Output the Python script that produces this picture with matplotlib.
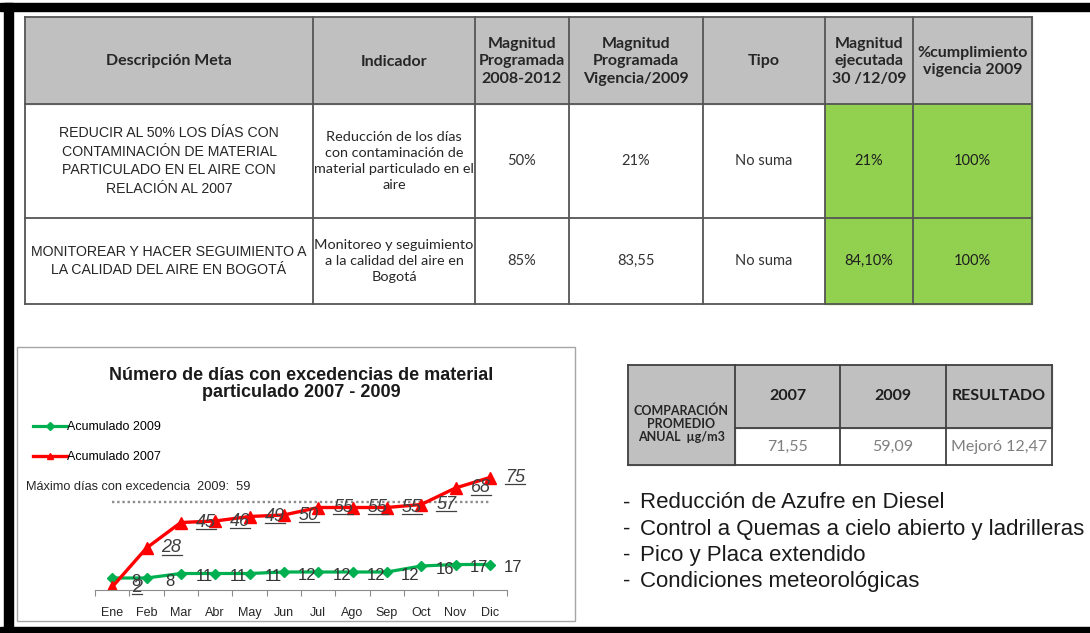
import matplotlib
matplotlib.use("Agg")
import matplotlib.pyplot as plt
from matplotlib.patches import Rectangle
from matplotlib.lines import Line2D

# ---- datos ----
meses = ["Ene", "Feb", "Mar", "Abr", "May", "Jun", "Jul", "Ago", "Sep", "Oct", "Nov", "Dic"]
acum_2009 = [8, 8, 11, 11, 11, 12, 12, 12, 12, 16, 17, 17]
acum_2007 = [2, 28, 45, 46, 49, 50, 55, 55, 55, 57, 68, 75]
maximo_2009 = 59

encabezados = ["Descripción Meta", "Indicador", "Magnitud\nProgramada\n2008-2012",
               "Magnitud\nProgramada\nVigencia/2009", "Tipo",
               "Magnitud\nejecutada\n30 /12/09", "%cumplimiento\nvigencia 2009"]
fila_1 = ["REDUCIR AL 50% LOS DÍAS CON\nCONTAMINACIÓN DE MATERIAL\nPARTICULADO EN EL AIRE CON\nRELACIÓN AL 2007",
          "Reducción de los días\ncon contaminación de\nmaterial particulado en el\naire",
          "50%", "21%", "No suma", "21%", "100%"]
fila_2 = ["MONITOREAR Y HACER SEGUIMIENTO A\nLA CALIDAD DEL AIRE EN BOGOTÁ",
          "Monitoreo y seguimiento\na la calidad del aire en\nBogotá",
          "85%", "83,55", "No suma", "84,10%", "100%"]

comp_titulo = "COMPARACIÓN\nPROMEDIO\nANUAL  µg/m3"
comp_cols = ["2007", "2009", "RESULTADO"]
comp_vals = ["71,55", "59,09", "Mejoró 12,47"]

acciones = ["Reducción de Azufre en Diesel",
            "Control a Quemas a cielo abierto y ladrilleras",
            "Pico y Placa extendido",
            "Condiciones meteorológicas"]

# ---- figura y fondo en pixeles ----
W, H = 1090, 633
fig = plt.figure(figsize=(W / 100, H / 100), dpi=100)
bg = fig.add_axes([0, 0, 1, 1])
bg.set_xlim(0, W)
bg.set_ylim(H, 0)
bg.axis("off")

# marco negro
bg.add_patch(Rectangle((0, 3), W, 8, color="black"))
bg.add_patch(Rectangle((4, 3), 9, H - 3, color="black"))
bg.add_patch(Rectangle((0, 627), W, 6, color="black"))

# ---- tabla superior ----
xs = [25, 313, 475, 569, 703, 825, 913, 1032]
ys = [17, 104, 218, 304]
gris = "#c0c0c0"
verde = "#92d050"
bg.add_patch(Rectangle((xs[0], ys[0]), xs[-1] - xs[0], ys[1] - ys[0], color=gris))
bg.add_patch(Rectangle((xs[5], ys[1]), xs[-1] - xs[5], ys[3] - ys[1], color=verde))
for x in xs:
    bg.plot([x, x], [ys[0], ys[-1]], color="#555555", lw=1.3)
for y in ys:
    bg.plot([xs[0], xs[-1]], [y, y], color="#555555", lw=1.3)

cx = [(xs[i] + xs[i + 1]) / 2 for i in range(len(xs) - 1)]
for i, txt in enumerate(encabezados):
    bg.text(cx[i], (ys[0] + ys[1]) / 2 + 1, txt, ha="center", va="center", fontsize=11.5,
            family="Lato", weight="bold", color="#262626", linespacing=1.28)

for fila, (y0, y1) in zip([fila_1, fila_2], [(ys[1], ys[2]), (ys[2], ys[3])]):
    cy = (y0 + y1) / 2
    bg.text(cx[0], cy, fila[0], ha="center", va="center", fontsize=10.2,
            family="Liberation Sans", color="#262626", linespacing=1.42)
    bg.text(cx[1], cy, fila[1], ha="center", va="center", fontsize=10.4,
            family="Lato", color="#262626", linespacing=1.38)
    for i in range(2, 7):
        bg.text(cx[i], cy, fila[i], ha="center", va="center", fontsize=10.5,
                family="Lato", color="#1e1e1e" if i >= 5 else "#333333")

# ---- tabla comparacion ----
cxs = [628, 735, 840, 946, 1052]
cys = [365, 428, 465]
bg.add_patch(Rectangle((cxs[0], cys[0]), cxs[-1] - cxs[0], cys[1] - cys[0], color=gris))
bg.add_patch(Rectangle((cxs[0], cys[1]), cxs[1] - cxs[0], cys[2] - cys[1], color=gris))
for x in cxs:
    bg.plot([x, x], [cys[0], cys[-1]], color="#404040", lw=1.3)
bg.plot([cxs[0], cxs[-1]], [cys[0], cys[0]], color="#404040", lw=1.3)
bg.plot([cxs[1], cxs[-1]], [cys[1], cys[1]], color="#404040", lw=1.3)
bg.plot([cxs[0], cxs[-1]], [cys[2], cys[2]], color="#404040", lw=1.3)
bg.text((cxs[0] + cxs[1]) / 2, 424, comp_titulo, ha="center", va="center", fontsize=9,
        family="Lato", weight="bold", color="#262626", linespacing=1.1)
for i in range(3):
    xc = (cxs[i + 1] + cxs[i + 2]) / 2
    bg.text(xc, (cys[0] + cys[1]) / 2 - 1, comp_cols[i], ha="center", va="center",
            fontsize=11.5, family="Lato", weight="bold", color="#1e1e1e")
    bg.text(xc, (cys[1] + cys[2]) / 2, comp_vals[i], ha="center", va="center",
            fontsize=11.5, family="Lato", color="#7f7f7f")

# ---- acciones ----
for k, txt in enumerate(acciones):
    y = 503 + k * 26
    bg.text(623, y, "-", ha="left", va="center", fontsize=16, family="Liberation Sans", color="#1a1a1a")
    bg.text(640, y, txt, ha="left", va="center", fontsize=16, family="Liberation Sans", color="#1a1a1a")

# ---- grafico ----
bg.add_patch(Rectangle((17, 347), 558, 274, fill=False, edgecolor="#a6a6a6", lw=1))
bg.text(301, 384, "Número de días con excedencias de material\nparticulado 2007 - 2009", ha="center",
        va="center", fontsize=13, family="Liberation Sans", weight="bold", color="#1a1a1a",
        linespacing=1.05)
bg.text(26, 487, "Máximo días con excedencia  2009:  59", ha="left", va="center", fontsize=9.2,
        family="Liberation Sans", color="#262626")

ax = fig.add_axes([95 / W, (H - 590) / H, 412 / W, 120 / H])
ax.set_xlim(-0.5, 11.5)
ax.set_ylim(0, 80)
ax.patch.set_alpha(0)
for s in ["top", "right", "left"]:
    ax.spines[s].set_visible(False)
ax.spines["bottom"].set_color("#8c8c8c")
ax.set_yticks([])
x = list(range(len(meses)))
ax.set_xticks([i - 0.5 for i in range(len(meses) + 1)])
ax.set_xticklabels([])
ax.set_xticks(x, minor=True)
ax.set_xticklabels(meses, minor=True, fontsize=9, family="Liberation Sans", color="#262626")
ax.tick_params(axis="x", which="major", length=4, color="#8c8c8c", direction="out")
ax.tick_params(axis="x", which="minor", length=0, pad=12)

ax.plot([x[0], x[-1]], [maximo_2009, maximo_2009], color="#8c8c8c", lw=1.7,
        linestyle=(0, (1, 1.2)))
l09, = ax.plot(x, acum_2009, color="#00b050", lw=2.3, marker="D", ms=4.6, label="Acumulado 2009")
l07, = ax.plot(x, acum_2007, color="#ff0000", lw=2.4, marker="^", ms=8, label="Acumulado 2007")

for xi, v in zip(x, acum_2009):
    ax.annotate(str(v), (xi, v), xytext=(17, -2.5), textcoords="offset points", ha="center",
                va="center", fontsize=12, family="Liberation Sans", color="#333333")
rojas = []
for xi, v in zip(x, acum_2007):
    t = ax.annotate(str(v), (xi, v), xytext=(18, 0), textcoords="offset points", ha="center",
                    va="center", fontsize=13, family="Liberation Sans", style="italic",
                    color="#404040")
    rojas.append(t)

leg = ax.legend(handles=[l09, l07], loc="upper left", bbox_to_anchor=(33 / W, 1 - 421 / H),
                bbox_transform=fig.transFigure, frameon=False, handlelength=2.7,
                handletextpad=0.0, labelspacing=1.45, borderaxespad=0, borderpad=0,
                prop={"family": "Liberation Sans", "size": 9})
for h in leg.legend_handles:
    h.set_markersize(4)

# subrayado de las etiquetas 2007
fig.canvas.draw()
inv = fig.transFigure.inverted()
for t in rojas:
    bb = t.get_window_extent()
    (x0, y0), (x1, _) = inv.transform([(bb.x0, bb.y0 + 2), (bb.x1, bb.y0 + 2)])
    fig.add_artist(Line2D([x0, x1], [y0, y0], color="#404040", lw=0.9, transform=fig.transFigure))

fig.savefig("out.png", dpi=100)
